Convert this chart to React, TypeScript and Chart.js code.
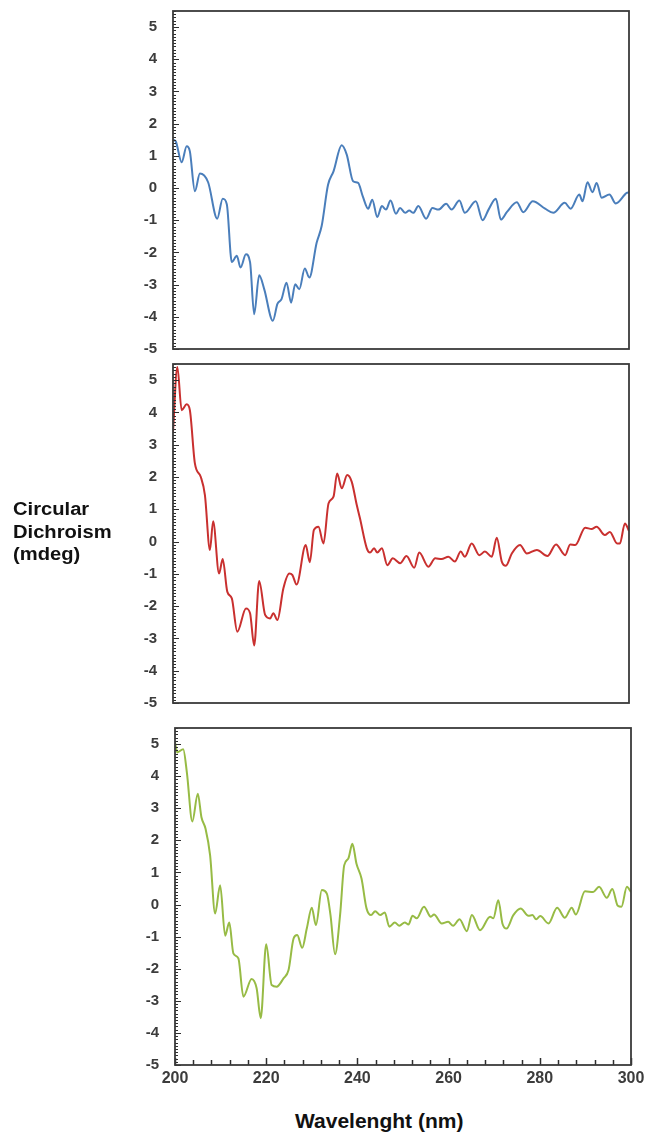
import React, { useEffect, useRef } from "react";
import { Chart, registerables } from "chart.js";

Chart.register(...registerables);

// ---- axis definitions ----
const X_MIN = 200;
const X_MAX = 300;
const Y_MIN = -5;
const Y_MAX = 5.5;
const xTicks = [200, 220, 240, 260, 280, 300];
const yTicks = [-5, -4, -3, -2, -1, 0, 1, 2, 3, 4, 5];
const xMinorStep = 4;
const yMinorStep = 0.1;

const yAxisTitle = ["Circular", "Dichroism", "(mdeg)"];
const xAxisTitle = "Wavelenght (nm)";

// ---- series 1 (blue) ----
const blueNm = [
  200, 200.6, 201.9, 203, 203.7, 204.8, 205.9, 207.7, 209.7, 210.9, 211.8, 212.9, 214, 214.8, 216,
  216.9, 217.8, 218.9, 220, 221.9, 222.9, 223.8, 224.9, 225.9, 226.8, 227.7, 228.9, 229.9, 231.5,
  232.6, 234, 235.2, 237, 238.1, 239.5, 240.6, 241.6, 242.8, 243.7, 244.8, 245.8, 246.7, 247.7,
  248.9, 249.8, 250.9, 251.8, 252.7, 253.8, 255.5, 256.9, 258.2, 259.9, 261.1, 262.8, 264, 266.4,
  267.9, 269.2, 270.8, 271.9, 273.2, 275.4, 276.8, 278.9, 281.6, 283.4, 285.9, 287.2, 289.1, 289.8,
  290.9, 292, 292.9, 294, 295.7, 297.1, 299.5, 300,
];
const blueCD = [
  1.5, 1.45, 0.8, 1.3, 1.14, -0.1, 0.45, 0.18, -0.95, -0.33, -0.5, -2.3, -2.1, -2.47, -2.06,
  -2.3, -3.92, -2.71, -3.14, -4.12, -3.6, -3.45, -2.94, -3.56, -2.99, -3.14, -2.5, -2.78, -1.7,
  -1.18, 0.1, 0.52, 1.33, 1.04, 0.21, 0.16, -0.25, -0.64, -0.36, -0.9, -0.56, -0.67, -0.39,
  -0.8, -0.62, -0.77, -0.7, -0.77, -0.56, -0.95, -0.62, -0.67, -0.49, -0.67, -0.39, -0.77, -0.41,
  -1.0, -0.67, -0.33, -0.98, -0.75, -0.44, -0.75, -0.41, -0.64, -0.77, -0.46, -0.64, -0.2, -0.41,
  0.18, -0.13, 0.16, -0.3, -0.2, -0.48, -0.15, -0.13,
];

// ---- series 2 (red) ----
const redNm = [
  200, 200.95, 201.9, 203, 203.7, 204.8, 206.1, 207, 208.1, 208.8, 210.1, 210.9, 211.9, 212.9,
  214.1, 216, 216.9, 217.8, 218.9, 220.2, 221.3, 222, 222.9, 224.2, 225.5, 226.2, 227.1, 229.1,
  230, 230.9, 231.9, 233, 234.1, 235.2, 236, 237, 238.2, 239.2, 240.3, 241, 242.5, 243.2, 244.1,
  244.8, 245.8, 247, 248.2, 249.8, 251.2, 252.9, 254, 256, 257.5, 258.9, 260.4, 261.8, 263.1, 264,
  265.5, 267.2, 268.4, 269.9, 271, 272.1, 273, 274.3, 276.1, 277.6, 279.8, 282.1, 284, 286, 287.1,
  288.2, 290.4, 291.8, 292.9, 294.7, 295.8, 297.4, 298, 299.1, 300,
];
const redCD = [
  3.4, 5.41, 4.07, 4.25, 4.07, 2.42, 2.0, 1.44, -0.26, 0.63, -0.99, -0.54, -1.55, -1.76,
  -2.79, -2.07, -2.22, -3.22, -1.22, -2.27, -2.38, -2.22, -2.43, -1.45, -0.99, -1.04, -1.33, -0.11,
  -0.64, 0.36, 0.46, -0.06, 1.18, 1.39, 2.11, 1.65, 2.06, 1.85, 1.13, 0.72, -0.21, -0.34, -0.21,
  -0.34, -0.21, -0.73, -0.52, -0.67, -0.45, -0.81, -0.34, -0.78, -0.52, -0.54, -0.47, -0.62, -0.31, -0.47,
  -0.06, -0.42, -0.31, -0.47, 0.12, -0.62, -0.75, -0.37, -0.11, -0.37, -0.26, -0.45, -0.09, -0.42, -0.09,
  -0.11, 0.43, 0.39, 0.46, 0.2, 0.3, -0.06, -0.06, 0.56, 0.33,
];

// ---- series 3 (green) ----
const greenNm = [
  200, 200.5, 201.8, 202.6, 203.8, 205, 205.8, 206.7, 207.7, 208.8, 209.9, 211, 211.9, 212.8,
  213.9, 215, 216.8, 217.9, 218.8, 220, 221.2, 222.3, 223.8, 224.9, 226, 226.8, 227.9, 228.9, 230,
  230.9, 232.2, 233.3, 234.1, 235.1, 236.2, 237.1, 238, 238.9, 239.8, 240.9, 242, 243, 243.9, 245,
  246, 247, 248.2, 249.2, 250.4, 251.2, 252.1, 253, 254.6, 256.1, 256.8, 258.5, 259.9, 261, 262.4,
  264, 265.1, 266.9, 269.1, 269.8, 270.9, 271.8, 272.7, 274.2, 275.8, 277.5, 278.4, 279.2, 280.1,
  281.9, 283.8, 285.5, 287, 287.9, 289.9, 291.7, 293, 294.7, 295.9, 297.1, 297.9, 299.1, 300,
];
const greenCD = [
  5.05, 4.74, 4.84, 4.12, 2.59, 3.45, 2.72, 2.36, 1.53, -0.28, 0.6, -0.97, -0.56, -1.52,
  -1.68, -2.87, -2.32, -2.61, -3.54, -1.24, -2.51, -2.56, -2.3, -2.04, -1.06, -0.95, -1.35, -0.75, -0.1,
  -0.64, 0.45, 0.34, -0.33, -1.55, -0.33, 1.22, 1.43, 1.89, 1.27, 0.81, -0.12, -0.33, -0.21, -0.33,
  -0.25, -0.69, -0.56, -0.66, -0.56, -0.62, -0.35, -0.43, -0.07, -0.38, -0.31, -0.59, -0.54, -0.66, -0.46,
  -0.83, -0.33, -0.8, -0.38, -0.43, 0.13, -0.59, -0.75, -0.33, -0.12, -0.35, -0.33, -0.46, -0.36,
  -0.59, -0.1, -0.41, -0.1, -0.31, 0.41, 0.39, 0.55, 0.21, 0.48, -0.04, -0.07, 0.55, 0.39,
];

const FONT = "'Liberation Sans', Arial, sans-serif";
const TICK_COLOR = "#3c3c3c";

type Panel = {
  nm: number[];
  cd: number[];
  color: string;
  top: number;
  height: number;
  padTop: number;
  padBottom: number;
  axisWidth: number;
  padRight: number;
  showX: boolean;
};

const panels: Panel[] = [
  { nm: blueNm, cd: blueCD, color: "#4a7ebb", top: 0, height: 360, padTop: 11, padBottom: 11, axisWidth: 173, padRight: 17, showX: false },
  { nm: redNm, cd: redCD, color: "#c9302f", top: 355, height: 360, padTop: 9, padBottom: 12, axisWidth: 173, padRight: 17, showX: false },
  { nm: greenNm, cd: greenCD, color: "#97bb45", top: 715, height: 385, padTop: 13, padBottom: 0, axisWidth: 175, padRight: 15, showX: true },
];

const framePlugin = {
  id: "frameTicks",
  afterDatasetsDraw(chart: any, _args: any, opts: any) {
    const { ctx, chartArea } = chart;
    const { left, right, top, bottom } = chartArea;
    const ys = chart.scales.y;
    const xs = chart.scales.x;
    ctx.save();
    ctx.strokeStyle = "#2e2e2e";
    ctx.lineWidth = 1;
    const nY = Math.round((Y_MAX - Y_MIN) / yMinorStep);
    for (let i = 0; i <= nY; i++) {
      const v = Y_MIN + i * yMinorStep;
      const py = Math.round(ys.getPixelForValue(v)) + 0.5;
      const len = i % 10 === 0 ? 6 : 3;
      ctx.beginPath();
      ctx.moveTo(left, py);
      ctx.lineTo(left + len, py);
      ctx.stroke();
    }
    if (opts && opts.showX) {
      const nX = Math.round((X_MAX - X_MIN) / xMinorStep);
      for (let i = 0; i <= nX; i++) {
        const v = X_MIN + i * xMinorStep;
        const px = Math.round(xs.getPixelForValue(v)) + 0.5;
        const len = v % 20 === 0 ? 7 : 5;
        ctx.lineWidth = 1.5;
        ctx.beginPath();
        ctx.moveTo(px, bottom);
        ctx.lineTo(px, bottom - len);
        ctx.stroke();
      }
    }
    ctx.lineWidth = 1.8;
    ctx.strokeStyle = "#3a3a3a";
    ctx.strokeRect(left, top, right - left, bottom - top);
    ctx.restore();
  },
};

function PanelChart({ p }: { p: Panel }) {
  const ref = useRef<HTMLCanvasElement | null>(null);
  useEffect(() => {
    if (!ref.current) return;
    const chart = new Chart(ref.current, {
      type: "line",
      data: {
        datasets: [
          {
            data: p.nm.map((x, i) => ({ x, y: p.cd[i] })),
            borderColor: p.color,
            borderWidth: 2,
            pointRadius: 0,
            cubicInterpolationMode: "monotone",
            fill: false,
          },
        ],
      },
      plugins: [framePlugin],
      options: {
        animation: false,
        responsive: false,
        devicePixelRatio: window.devicePixelRatio || 1,
        layout: { padding: { top: p.padTop, bottom: p.padBottom, left: 0, right: p.padRight } },
        plugins: {
          legend: { display: false },
          tooltip: { enabled: false },
          frameTicks: { showX: p.showX },
        } as any,
        scales: {
          x: {
            type: "linear",
            min: X_MIN,
            max: X_MAX,
            display: p.showX,
            grid: { display: false, drawTicks: false },
            border: { display: false },
            afterBuildTicks: (s: any) => {
              s.ticks = xTicks.map((v) => ({ value: v }));
            },
            afterFit: (s: any) => {
              if (p.showX) s.height = 35;
              s.paddingLeft = 0;
              s.paddingRight = 0;
            },
            ticks: {
              padding: 4,
              maxRotation: 0,
              autoSkip: false,
              color: TICK_COLOR,
              font: { family: FONT, size: 16, weight: "bold" },
            },
          },
          y: {
            type: "linear",
            min: Y_MIN,
            max: Y_MAX,
            grid: { display: false, drawTicks: false },
            border: { display: false },
            afterBuildTicks: (s: any) => {
              s.ticks = yTicks.map((v) => ({ value: v }));
            },
            afterFit: (s: any) => {
              s.width = p.axisWidth;
              s.paddingTop = 0;
              s.paddingBottom = 0;
            },
            ticks: {
              padding: 16,
              color: TICK_COLOR,
              font: { family: FONT, size: 15, weight: "bold" },
            },
          },
        },
      } as any,
    });
    return () => chart.destroy();
  }, [p]);
  return (
    <canvas
      ref={ref}
      width={646}
      height={p.height}
      style={{ position: "absolute", left: 0, top: p.top, width: 646, height: p.height }}
    />
  );
}

export default function App() {
  return (
    <div style={{ position: "absolute", left: 0, top: 0, width: 646, height: 1139, background: "#fff", overflow: "hidden" }}>
      {panels.map((p, i) => (
        <PanelChart key={i} p={p} />
      ))}
      <div
        style={{
          position: "absolute",
          left: 13,
          top: 498,
          fontFamily: FONT,
          fontWeight: "bold",
          fontSize: 18,
          lineHeight: "22.5px",
          color: "#111",
          transform: "scaleX(1.12)",
          transformOrigin: "left top",
          whiteSpace: "nowrap",
        }}
      >
        {yAxisTitle.map((t, i) => (
          <div key={i}>{t}</div>
        ))}
      </div>
      <div
        style={{
          position: "absolute",
          left: 295,
          top: 1109,
          fontFamily: FONT,
          fontWeight: "bold",
          fontSize: 21,
          lineHeight: "24px",
          color: "#111",
          whiteSpace: "nowrap",
        }}
      >
        {xAxisTitle}
      </div>
    </div>
  );
}
